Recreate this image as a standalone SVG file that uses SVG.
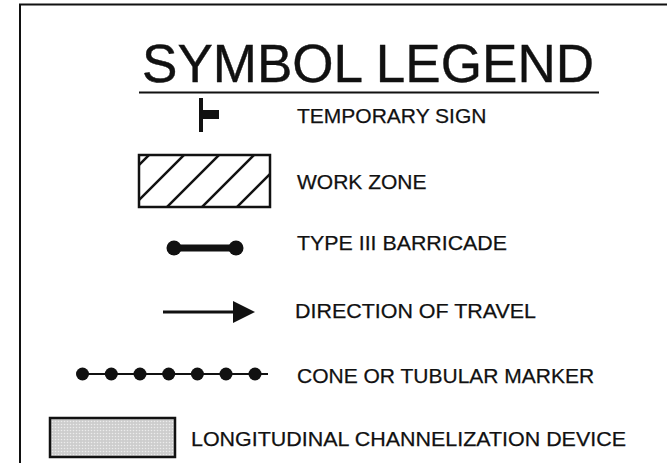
<svg xmlns="http://www.w3.org/2000/svg" width="667" height="463" viewBox="0 0 667 463">
<style>
.lbl{font-family:"Liberation Sans",Arial,sans-serif;font-size:21px;fill:#111;stroke:#111;stroke-width:0.25}
.ttl{font-family:"Liberation Sans",Arial,sans-serif;font-size:54px;fill:#111;stroke:#111;stroke-width:0.4}
.blk{stroke:#111;fill:none}
</style>
<defs>
<pattern id="dots" width="3" height="3" patternUnits="userSpaceOnUse">
<rect width="3" height="3" fill="#cdcdcd"/>
<circle cx="1.5" cy="1.5" r="0.8" fill="#ececec"/>
</pattern>
<clipPath id="wzclip"><rect x="139" y="155" width="131" height="52"/></clipPath>
</defs>
<rect width="667" height="463" fill="#fff"/>
<path d="M20,463 V4.5 H667" class="blk" stroke-width="2"/>
<g id="title">
<text class="ttl" x="142" y="82" textLength="452" lengthAdjust="spacingAndGlyphs">SYMBOL LEGEND</text>
<line x1="139" y1="92.5" x2="599" y2="92.5" class="blk" stroke-width="2"/>
</g>
<g id="temporary-sign">
<line x1="201" y1="98" x2="201" y2="132" class="blk" stroke-width="4"/>
<rect x="201" y="110" width="18" height="9" fill="#111"/>
<text class="lbl" x="297" y="123">TEMPORARY SIGN</text>
</g>
<g id="work-zone">
<g clip-path="url(#wzclip)" class="blk" stroke-width="2.5">
<line x1="129" y1="175" x2="159" y2="145"/>
<line x1="129" y1="210" x2="194" y2="145"/>
<line x1="157" y1="217" x2="229" y2="145"/>
<line x1="192" y1="217" x2="264" y2="145"/>
<line x1="227" y1="217" x2="290" y2="154"/>
</g>
<rect x="139" y="155" width="131" height="52" class="blk" stroke-width="2.5"/>
<text class="lbl" x="297" y="189">WORK ZONE</text>
</g>
<g id="type-iii-barricade">
<line x1="174" y1="248" x2="236" y2="248" class="blk" stroke-width="7"/>
<circle cx="174" cy="248" r="7.5" fill="#111"/>
<circle cx="236" cy="248" r="7.5" fill="#111"/>
<text class="lbl" x="297" y="250" textLength="210" lengthAdjust="spacingAndGlyphs">TYPE III BARRICADE</text>
</g>
<g id="direction-of-travel">
<line x1="163" y1="312" x2="235" y2="312" class="blk" stroke-width="3"/>
<polygon points="233,301 255,312 233,323" fill="#111"/>
<text class="lbl" x="295" y="318" textLength="241" lengthAdjust="spacingAndGlyphs">DIRECTION OF TRAVEL</text>
</g>
<g id="cone-or-tubular-marker">
<line x1="82" y1="374" x2="268" y2="374" class="blk" stroke-width="2"/>
<g fill="#111">
<circle cx="82.5" cy="374" r="6.5"/>
<circle cx="111.3" cy="374" r="6.5"/>
<circle cx="140" cy="374" r="6.5"/>
<circle cx="168.7" cy="374" r="6.5"/>
<circle cx="197.4" cy="374" r="6.5"/>
<circle cx="226" cy="374" r="6.5"/>
<circle cx="255" cy="374" r="6.5"/>
</g>
<text class="lbl" x="297" y="383">CONE OR TUBULAR MARKER</text>
</g>
<g id="longitudinal-channelization-device">
<rect x="50" y="418" width="125" height="39" fill="url(#dots)" stroke="#111" stroke-width="2.5"/>
<text class="lbl" x="191" y="446" textLength="435" lengthAdjust="spacingAndGlyphs">LONGITUDINAL CHANNELIZATION DEVICE</text>
</g>
</svg>
